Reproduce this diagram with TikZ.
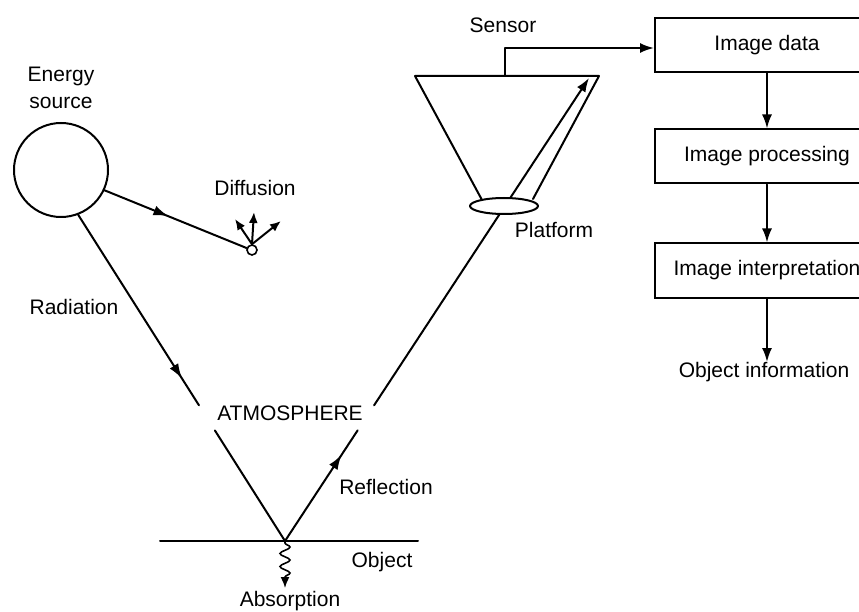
\documentclass[tikz,border=0pt]{standalone}
\usepackage{fontspec}
\setmainfont{Liberation Sans}
\usetikzlibrary{arrows.meta,calc,shapes.geometric,decorations.markings,decorations.pathmorphing}

\tikzset{
  ln/.style={line width=2pt, line cap=round, line join=round},
  tip/.style={-{Latex[length=14pt,width=10pt]}},
  smalltip/.style={-{Latex[length=11pt,width=9pt]}},
  midarr/.style={postaction={decorate},
    decoration={markings, mark=at position #1 with {\arrow{Latex[length=15pt,width=10pt]}}}},
  lbl/.style={font=\fontsize{21}{25}\selectfont, inner sep=0pt},
  stepbox/.style={draw, line width=2pt, minimum width=224pt, minimum height=54pt,
    inner sep=0pt, font=\fontsize{21}{25}\selectfont},
}

\begin{document}
\begin{tikzpicture}[x=1pt, y=-1pt]
\useasboundingbox (0,0) rectangle (859,612);

% energy source and its label
\node[draw, ln, circle, minimum size=94pt, inner sep=0pt] (src) at (61,170) {};
\node[lbl, align=center] (srclbl) at (61,88) {Energy\\[2pt]source};

% diffusion point with scattered arrows
\node[draw, line width=1.6pt, circle, minimum size=10pt, inner sep=0pt, fill=white] (dif) at (252,250) {};
\node[lbl] (diflbl) at (255,188) {Diffusion};
\draw[ln, midarr=0.45] (src.-25) -- (dif.160);
\coordinate (d1) at (235,219);
\coordinate (d2) at (254,212);
\coordinate (d3) at (281,221);
\draw[ln, smalltip] (dif.north) -- (d1);
\draw[ln, smalltip] (dif.north) -- (d2);
\draw[ln, smalltip] (dif.north) -- (d3);

% object surface and point of incidence
\coordinate (hit) at (285,541);
\coordinate (gl) at (160,541);
\coordinate (gr) at (418,541);
\draw[ln] (gl) -- (gr);
\node[lbl] (objlbl) at (382,562) {Object};

% incoming radiation, interrupted by the atmosphere label
\coordinate (r0) at (src.-69);
\draw[ln, midarr=0.86] (r0) -- ($(r0)!0.584!(hit)$);
\draw[ln] ($(r0)!0.661!(hit)$) -- (hit);
\node[lbl] (radlbl) at (74,307) {Radiation};
\node[lbl] (atm) at (290,413) {ATMOSPHERE};

% reflected radiation up to the sensor
\coordinate (rtip) at (589,78);
\draw[ln, midarr=0.78] (hit) -- ($(hit)!0.239!(rtip)$);
\draw[ln, tip] ($(hit)!0.293!(rtip)$) -- (rtip);
\node[lbl] (refllbl) at (386,487) {Reflection};

% absorption
\coordinate (absend) at (285,588);
\draw[line width=1.6pt, -{Latex[length=11pt,width=9pt]}, decorate,
  decoration={snake, amplitude=5pt, segment length=13pt, pre length=2pt, post length=10pt}]
  (hit) -- (absend);
\node[lbl] (abslbl) at (290,601) {Absorption};

% sensor cone
\coordinate (cbl) at (482,200);
\coordinate (ctl) at (415,76);
\coordinate (ctr) at (599,76);
\coordinate (cbr) at (533,199);
\draw[ln] (cbl) -- (ctl) -- (ctr) -- (cbr);
\node[lbl] (senslbl) at (503,25) {Sensor};

% platform
\node[draw, ln, ellipse, fill=white, minimum width=68pt, minimum height=16pt, inner sep=0pt] (plat) at (504,206) {};
\node[lbl] (platlbl) at (554,230) {Platform};

% processing chain
\node[stepbox] (data) at (767,45) {Image data};
\node[stepbox] (proc) at (767,156.5) {Image processing};
\node[stepbox] (interp) at (767,270.5) {Image interpretation};
\node[lbl] (info) at (764,372) {Object information};

\coordinate (cout) at (505,76);
\draw[ln, tip] (cout) -- (505,48) -- (data.west |- 0,48);
\draw[ln, tip] (data.south) -- (proc.north);
\draw[ln, tip] (proc.south) -- (interp.north);
\draw[ln, tip] (interp.south) -- (interp.south |- info.north);
\end{tikzpicture}
\end{document}
